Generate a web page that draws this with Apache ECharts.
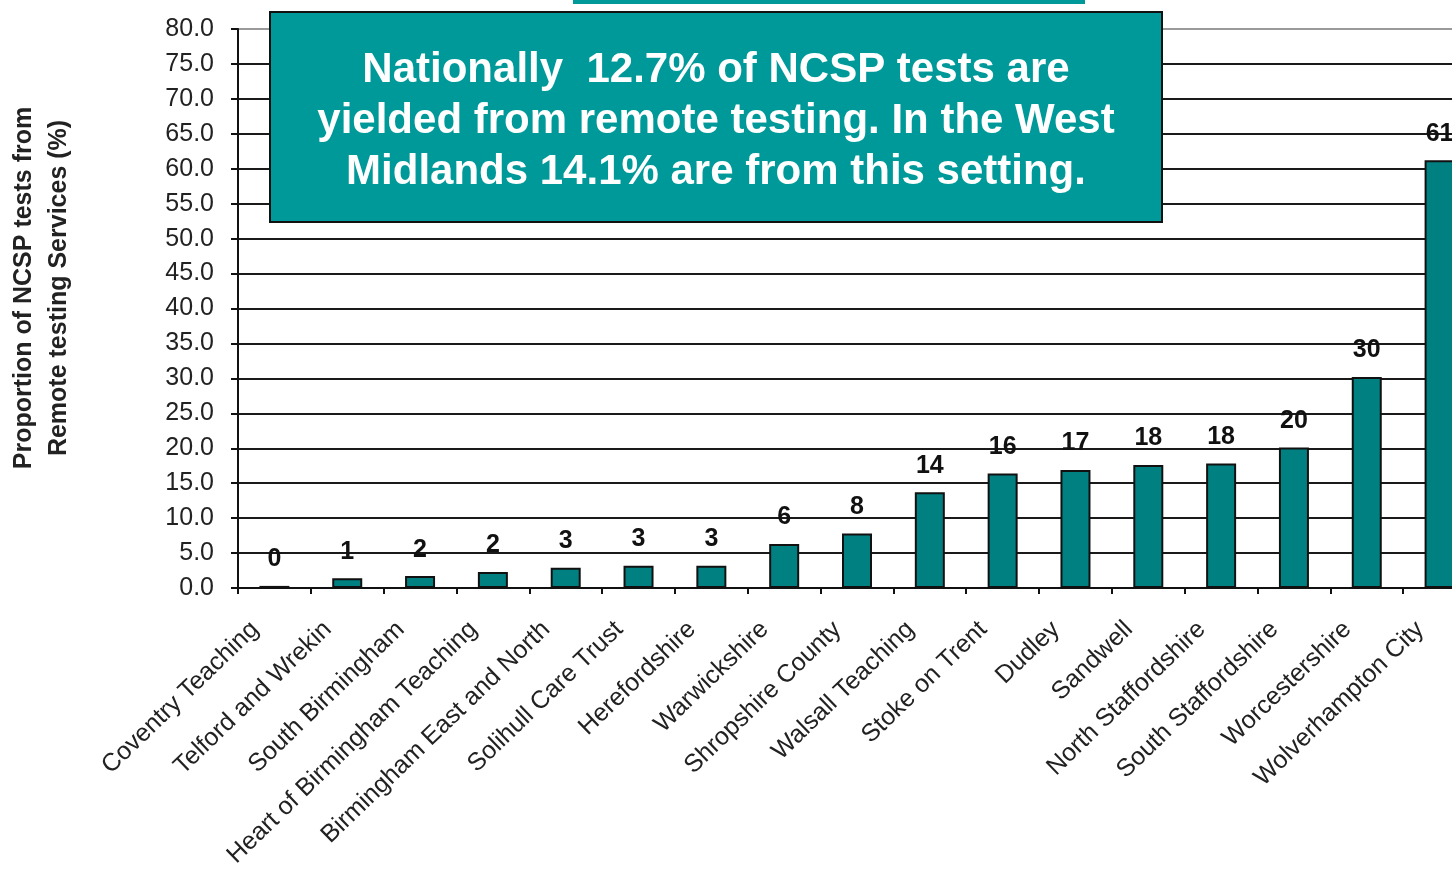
<!DOCTYPE html>
<html>
<head>
<meta charset="utf-8">
<script src="https://cdn.jsdelivr.net/npm/echarts@6/dist/echarts.min.js"></script>
<style>
html,body{margin:0;padding:0;background:#fff;overflow:hidden;width:1452px;height:872px;}
#chart{width:1476px;height:872px;}
</style>
</head>
<body>
<div id="chart"></div>
<script>
const categories = [
  'Coventry Teaching', 'Telford and Wrekin', 'South Birmingham', 'Heart of Birmingham Teaching',
  'Birmingham East and North', 'Solihull Care Trust', 'Herefordshire', 'Warwickshire',
  'Shropshire County', 'Walsall Teaching', 'Stoke on Trent', 'Dudley', 'Sandwell',
  'North Staffordshire', 'South Staffordshire', 'Worcestershire', 'Wolverhampton City'
];
const remotePct = [0.3, 1.4, 1.7, 2.3, 2.9, 3.2, 3.2, 6.3, 7.8, 13.7, 16.4, 16.9, 17.6, 17.8, 20.1, 30.2, 61.2];
const yTitleLines = ['Proportion of NCSP tests from', 'Remote testing Services (%)'];
const boxLines = [
  'Nationally  12.7% of NCSP tests are',
  'yielded from remote testing. In the West',
  'Midlands 14.1% are from this setting.'
];

const chart = echarts.init(document.getElementById('chart'), null, {renderer: 'canvas'});

const splitColors = [];
for (let i = 0; i < 16; i++) splitColors.push('#1a1a1a');
splitColors.push('#9a9a9a');

chart.setOption({
  animation: false,
  backgroundColor: '#ffffff',
  grid: {left: 238, top: 29, right: 0, bottom: 284, containLabel: false},
  xAxis: {
    type: 'category',
    data: categories,
    axisLine: {lineStyle: {color: '#111', width: 2}},
    axisTick: {show: true, length: 6, lineStyle: {color: '#111', width: 2}},
    axisLabel: {
      interval: 0,
      rotate: 44,
      margin: 19,
      padding: [0, 27, 0, 0],
      fontFamily: '"Liberation Sans", Arial, sans-serif',
      fontSize: 25,
      color: '#222'
    }
  },
  yAxis: {
    type: 'value',
    min: 0,
    max: 80,
    interval: 5,
    axisLine: {show: true, lineStyle: {color: '#111', width: 2}},
    axisTick: {show: true, length: 7, lineStyle: {color: '#111', width: 2}},
    axisLabel: {
      margin: 24,
      fontFamily: '"Liberation Sans", Arial, sans-serif',
      fontSize: 25,
      color: '#222',
      formatter: v => v.toFixed(1)
    },
    splitLine: {show: true, lineStyle: {color: splitColors, width: 2}}
  },
  series: [{
    type: 'bar',
    data: remotePct,
    barWidth: 30,
    itemStyle: {color: '#008080', borderColor: '#111', borderWidth: 2},
    label: {
      show: true,
      position: 'top',
      distance: 14,
      fontFamily: '"Liberation Sans Narrow", "Liberation Sans", Arial, sans-serif',
      fontWeight: 'bold',
      fontSize: 25,
      color: '#111',
      formatter: p => String(Math.round(p.value))
    }
  }],
  graphic: [
    {
      type: 'rect', z: 100,
      shape: {x: 573, y: 0, width: 512, height: 4},
      style: {fill: '#009999'}
    },
    {
      type: 'rect', z: 100,
      shape: {x: 270, y: 12, width: 892, height: 210},
      style: {fill: '#009999', stroke: '#111', lineWidth: 2}
    },
    {
      type: 'text', z: 101,
      x: 716, y: 121,
      style: {
        text: boxLines.join('\n'),
        fill: '#ffffff',
        font: 'bold 42px "Liberation Sans", Arial, sans-serif',
        lineHeight: 51,
        align: 'center',
        verticalAlign: 'middle'
      }
    },
    {
      type: 'text', z: 101,
      x: 24, y: 288, rotation: Math.PI / 2,
      style: {
        text: yTitleLines[0],
        fill: '#222',
        font: 'bold 25px "Liberation Sans", Arial, sans-serif',
        align: 'center',
        verticalAlign: 'middle'
      }
    },
    {
      type: 'text', z: 101,
      x: 59, y: 288, rotation: Math.PI / 2,
      style: {
        text: yTitleLines[1],
        fill: '#222',
        font: 'bold 25px "Liberation Sans", Arial, sans-serif',
        align: 'center',
        verticalAlign: 'middle'
      }
    }
  ]
});
</script>
</body>
</html>
